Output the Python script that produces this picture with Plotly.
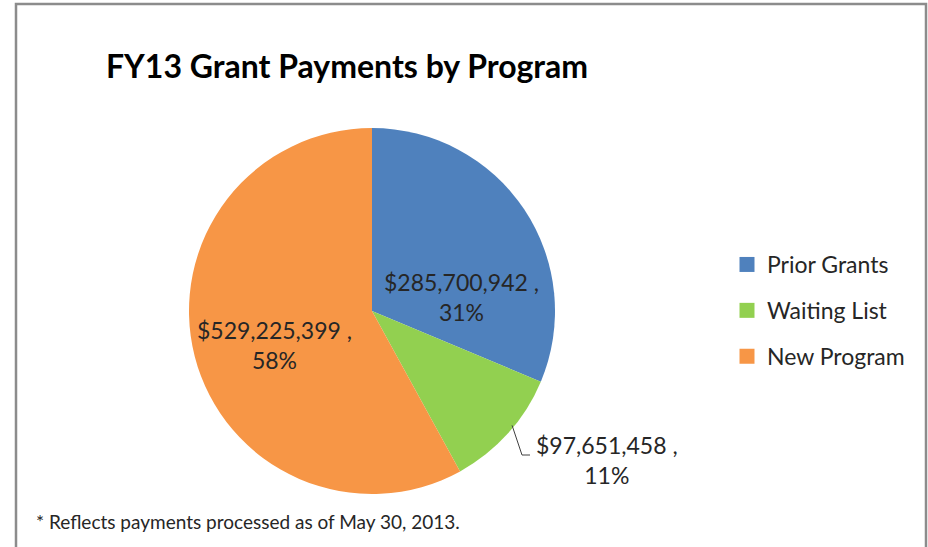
import math
import plotly.graph_objects as go

categories = ["Prior Grants", "Waiting List", "New Program"]
values = [285700942, 97651458, 529225399]
colors = ["#4F81BD", "#92D050", "#F79646"]
title_text = "FY13 Grant Payments by Program"
footnote_text = "* Reflects payments processed as of May 30, 2013."

W, H = 928, 547
FONT = "Lato"
cx, cy, r = 372, 311, 183
# data-label centre positions (px) - layout only
label_xy = [(461, 297), (607, 460), (274, 345)]
leader = [False, True, False]

total = sum(values)
labels_txt = [f"${v:,.0f} ,<br>{round(100 * v / total)}%" for v in values]

fig = go.Figure()
fig.add_trace(go.Pie(
    labels=categories, values=values, sort=False, direction="clockwise", rotation=0,
    marker=dict(colors=colors, line=dict(width=0)),
    textinfo="none",
    hovertemplate="%{label}<br>$%{value:,.0f}<br>%{percent:.0%}<extra></extra>",
    showlegend=False,
    domain=dict(x=[(cx - r) / W, (cx + r) / W], y=[(H - cy - r) / H, (H - cy + r) / H]),
))
for c, col in zip(categories, colors):
    fig.add_trace(go.Scatter(
        x=[None], y=[None], mode="markers", name=c, legendgroup=c,
        marker=dict(symbol="square", size=15, color=col),
    ))

def px(x, y):
    return x / W, 1 - y / H

annotations = [
    dict(text="<b>" + title_text + "</b>", xref="paper", yref="paper",
         x=px(104, 0)[0], y=px(0, 66)[1], xanchor="left", yanchor="middle", showarrow=False,
         font=dict(family=FONT, size=32, color="#000000")),
    dict(text=footnote_text, xref="paper", yref="paper",
         x=px(34, 0)[0], y=px(0, 521)[1], xanchor="left", yanchor="middle", showarrow=False,
         font=dict(family=FONT, size=19, color="#262626")),
]
for t, (lx, ly) in zip(labels_txt, label_xy):
    annotations.append(dict(text=t, xref="paper", yref="paper", x=px(lx, 0)[0], y=px(0, ly)[1],
                            xanchor="center", yanchor="middle", showarrow=False, align="center",
                            font=dict(family=FONT, size=23, color="#262626")))

shapes = [dict(type="rect", xref="paper", yref="paper",
               x0=16 / W, x1=926 / W, y0=-0.05, y1=1 - 4 / H,
               line=dict(color="#8C8C8C", width=2.5), fillcolor="rgba(0,0,0,0)")]

# leader lines from slice mid-angle on the rim to the label
cum = 0
for v, (lx, ly), has in zip(values, label_xy, leader):
    mid = (cum + v / 2) / total * 2 * math.pi
    cum += v
    if not has:
        continue
    x0, y0 = cx + r * math.sin(mid) + 4, cy - r * math.cos(mid) - 8
    left = lx - 70
    yl = ly - 5
    path = f"M {x0/W},{1-y0/H} L {(left-15)/W},{1-yl/H} L {(left-7)/W},{1-yl/H}"
    shapes.append(dict(type="path", xref="paper", yref="paper", path=path,
                       line=dict(color="#404040", width=1)))

fig.update_layout(
    width=W, height=H,
    margin=dict(l=0, r=0, t=0, b=0),
    paper_bgcolor="white", plot_bgcolor="white",
    xaxis=dict(visible=False), yaxis=dict(visible=False),
    showlegend=True,
    legend=dict(x=727 / W, y=1 - 243 / H, xanchor="left", yanchor="top",
                font=dict(family=FONT, size=23, color="#262626"),
                tracegroupgap=13, itemclick=False, bgcolor="rgba(0,0,0,0)"),
    shapes=shapes,
    annotations=annotations,
)
fig.write_html("out.html")
